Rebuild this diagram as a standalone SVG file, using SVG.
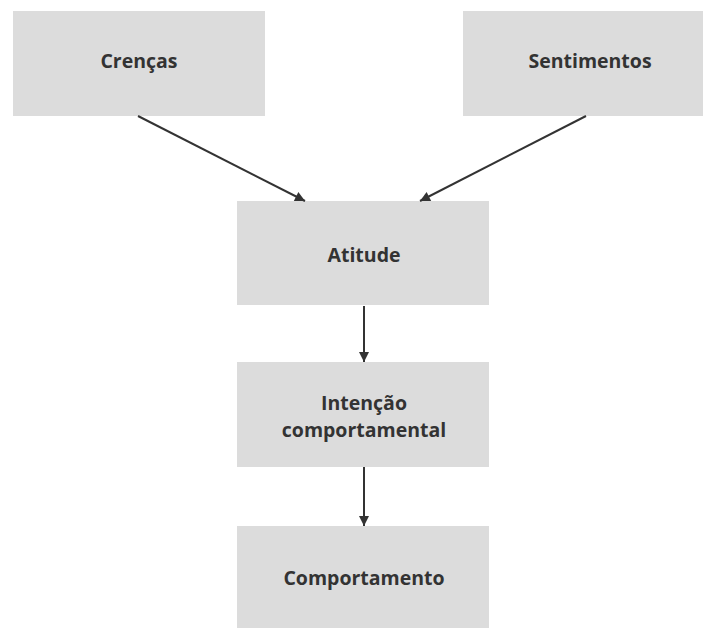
<svg xmlns="http://www.w3.org/2000/svg" width="703" height="628" viewBox="0 0 703 628">
<defs>
<style>
.box{fill:#dcdcdc}
.lbl{font-family:"Open Sans","Liberation Sans",sans-serif;font-weight:700;font-size:19.5px;fill:#333;text-anchor:middle}
.con{stroke:#333;stroke-width:2;fill:none;marker-end:url(#ah)}
</style>
<marker id="ah" viewBox="0 0 10 10" refX="10" refY="5" markerWidth="6" markerHeight="5" orient="auto" markerUnits="strokeWidth">
<path d="M0,0 L10,5 L0,10 Z" fill="#333"/>
</marker>
</defs>
<rect width="703" height="628" fill="#fff"/>
<g id="crencas"><rect class="box" x="13" y="11" width="252" height="105"/><text class="lbl" x="139" y="68">Crenças</text></g>
<g id="sentimentos"><rect class="box" x="463" y="11" width="253" height="105"/><text class="lbl" x="590" y="68">Sentimentos</text></g>
<g id="atitude"><rect class="box" x="237" y="201" width="252" height="104"/><text class="lbl" x="364" y="262">Atitude</text></g>
<g id="intencao"><rect class="box" x="237" y="362" width="252" height="105"/><text class="lbl" x="364" y="410">Intenção</text><text class="lbl" x="364" y="437">comportamental</text></g>
<g id="comportamento"><rect class="box" x="237" y="526" width="252" height="102"/><text class="lbl" x="364" y="585">Comportamento</text></g>
<g id="connectors">
<line class="con" x1="138" y1="116" x2="305" y2="201"/>
<line class="con" x1="586" y1="116" x2="420" y2="201"/>
<line class="con" x1="364" y1="306" x2="364" y2="362"/>
<line class="con" x1="364" y1="467" x2="364" y2="526"/>
</g>
</svg>
